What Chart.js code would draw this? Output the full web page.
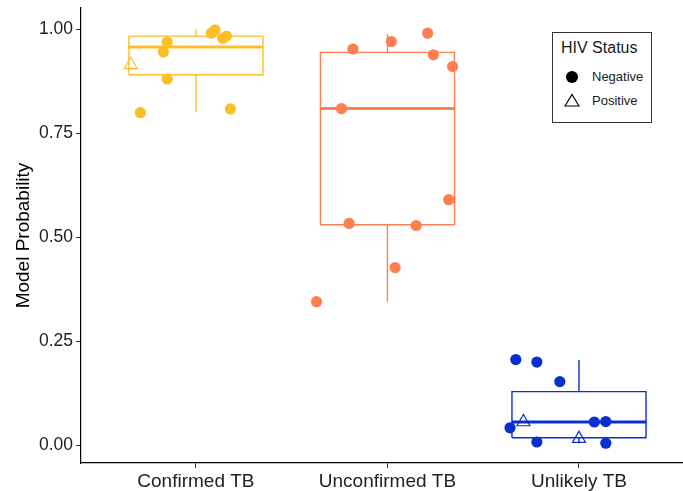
<!DOCTYPE html>
<html>
<head>
<meta charset="utf-8">
<script src="https://cdn.jsdelivr.net/npm/chart.js@4.4.1/dist/chart.umd.min.js"></script>
<style>
  html, body { margin: 0; padding: 0; background: #ffffff; }
  #wrap { position: relative; width: 683px; height: 491px; }
  canvas { position: absolute; left: 0; top: 0; }
  #legend {
    position: absolute; left: 552px; top: 32px; width: 98px; height: 89px;
    border: 1px solid #333; background: #fff;
    font-family: "Liberation Sans", Arial, sans-serif; color: #1a1a1a;
  }
  #legend .title { position: absolute; left: 8px; top: 5px; font-size: 16px; line-height: 20px; }
  #legend .item { position: absolute; left: 39px; font-size: 13px; line-height: 16px; }
  #legend .mk { position: absolute; }
</style>
</head>
<body>
<div id="wrap">
  <canvas id="c" width="683" height="491"></canvas>
  <div id="legend">
    <div class="title">HIV Status</div>
    <svg class="mk" style="left:12px; top:37px" width="14" height="14"><circle cx="7" cy="7" r="6" fill="#000"/></svg>
    <div class="item" style="top:36px">Negative</div>
    <svg class="mk" style="left:11px; top:60px" width="16" height="14"><polygon points="8,1.5 15,13 1,13" fill="none" stroke="#000" stroke-width="1.2"/></svg>
    <div class="item" style="top:60px">Positive</div>
  </div>
</div>
<script>
// ---- data ----
const categories = ['Confirmed TB', 'Unconfirmed TB', 'Unlikely TB'];
const yTicks = [0, 0.25, 0.5, 0.75, 1.0];

// box statistics per category
const whiskerLow  = [0.800, 0.345, 0.005];
const q1          = [0.890, 0.530, 0.018];
const median      = [0.957, 0.809, 0.056];
const q3          = [0.983, 0.944, 0.129];
const whiskerHigh = [0.998, 0.988, 0.205];

// jittered observations (x = category position with jitter)
const confirmedNegX = [1.10, 1.08, 1.14, 1.16, 0.85, 0.83, 0.85, 0.71, 1.18];
const confirmedNegY = [0.998, 0.990, 0.978, 0.983, 0.969, 0.945, 0.880, 0.799, 0.808];
const confirmedPosX = [0.66];
const confirmedPosY = [0.914];

const unconfirmedNegX = [1.82, 2.02, 2.21, 2.24, 2.34, 1.76, 2.32, 1.80, 2.15, 2.04, 1.63];
const unconfirmedNegY = [0.952, 0.970, 0.990, 0.938, 0.910, 0.809, 0.590, 0.533, 0.528, 0.427, 0.345];
const unconfirmedPosX = [];
const unconfirmedPosY = [];

const unlikelyNegX = [2.67, 2.78, 2.90, 2.64, 3.08, 3.14, 2.78, 3.14];
const unlikelyNegY = [0.206, 0.200, 0.153, 0.042, 0.056, 0.057, 0.008, 0.005];
const unlikelyPosX = [2.71, 3.00];
const unlikelyPosY = [0.056, 0.016];

// ---- styling ----
const colors = ['#FDBF28', '#FF7F50', '#0A2FD0'];
const boxHalf = 0.35;
const FONT = '"Liberation Sans", Arial, sans-serif';

const negX = [confirmedNegX, unconfirmedNegX, unlikelyNegX];
const negY = [confirmedNegY, unconfirmedNegY, unlikelyNegY];
const posX = [confirmedPosX, unconfirmedPosX, unlikelyPosX];
const posY = [confirmedPosY, unconfirmedPosY, unlikelyPosY];

const zip = (xs, ys) => xs.map((x, i) => ({ x: x, y: ys[i] }));

const datasets = [];
categories.forEach((cat, i) => {
  const c = i + 1;
  const col = colors[i];
  const lineBase = { type: 'scatter', showLine: true, pointRadius: 0, pointHoverRadius: 0,
                     borderColor: col, backgroundColor: col, fill: false, tension: 0, order: 2,
                     borderJoinStyle: 'miter' };
  datasets.push(Object.assign({}, lineBase, { borderWidth: 1.4, data: [
    { x: c - boxHalf, y: q1[i] }, { x: c + boxHalf, y: q1[i] },
    { x: c + boxHalf, y: q3[i] }, { x: c - boxHalf, y: q3[i] }, { x: c - boxHalf, y: q1[i] } ] }));
  datasets.push(Object.assign({}, lineBase, { borderWidth: 3, data: [
    { x: c - boxHalf, y: median[i] }, { x: c + boxHalf, y: median[i] } ] }));
  datasets.push(Object.assign({}, lineBase, { borderWidth: 1.4, data: [
    { x: c, y: q3[i] }, { x: c, y: whiskerHigh[i] } ] }));
  datasets.push(Object.assign({}, lineBase, { borderWidth: 1.4, data: [
    { x: c, y: q1[i] }, { x: c, y: whiskerLow[i] } ] }));
  datasets.push({ type: 'scatter', order: 0, data: zip(negX[i], negY[i]),
    pointStyle: 'circle', pointRadius: 5.6, pointHoverRadius: 5.6,
    backgroundColor: col, borderColor: col, borderWidth: 0 });
  datasets.push({ type: 'scatter', order: 0, data: zip(posX[i], posY[i]),
    pointStyle: 'triangle', pointRadius: 7.5, pointHoverRadius: 7.5,
    backgroundColor: 'rgba(0,0,0,0)', borderColor: col, borderWidth: 1.2 });
});

new Chart(document.getElementById('c'), {
  type: 'scatter',
  data: { datasets: datasets },
  options: {
    responsive: false,
    animation: false,
    devicePixelRatio: 1,
    layout: { autoPadding: false, padding: { top: 8, right: 0, left: 0, bottom: 0 } },
    plugins: { legend: { display: false }, tooltip: { enabled: false } },
    events: [],
    scales: {
      x: {
        type: 'linear', min: 0.4, max: 3.543,
        grid: { display: true, drawOnChartArea: false, drawTicks: true, tickLength: 5, color: '#333', lineWidth: 1 },
        border: { display: true, color: '#000', width: 1.2 },
        afterBuildTicks: s => { s.ticks = categories.map((_, i) => ({ value: i + 1 })); },
        ticks: {
          autoSkip: false, maxRotation: 0, padding: 2,
          color: '#222', font: { family: FONT, size: 19 },
          callback: v => categories[Math.round(v) - 1]
        },
        afterFit: s => { s.height = 28; s.paddingLeft = 0; s.paddingRight = 0; }
      },
      y: {
        type: 'linear', min: -0.0425, max: 1.0505,
        grid: { display: true, drawOnChartArea: false, drawTicks: true, tickLength: 5, color: '#333', lineWidth: 1 },
        border: { display: true, color: '#000', width: 1.2 },
        afterBuildTicks: s => { s.ticks = yTicks.map(v => ({ value: v })); },
        ticks: {
          padding: 3, color: '#222', font: { family: FONT, size: 17.5 },
          callback: v => Number(v).toFixed(2)
        },
        title: { display: true, text: 'Model Probability', color: '#000',
                 font: { family: FONT, size: 19 }, padding: { top: 12, bottom: 0 } },
        afterFit: s => { s.width = 81; s.paddingTop = 0; s.paddingBottom = 0; }
      }
    }
  }
});
</script>
</body>
</html>
